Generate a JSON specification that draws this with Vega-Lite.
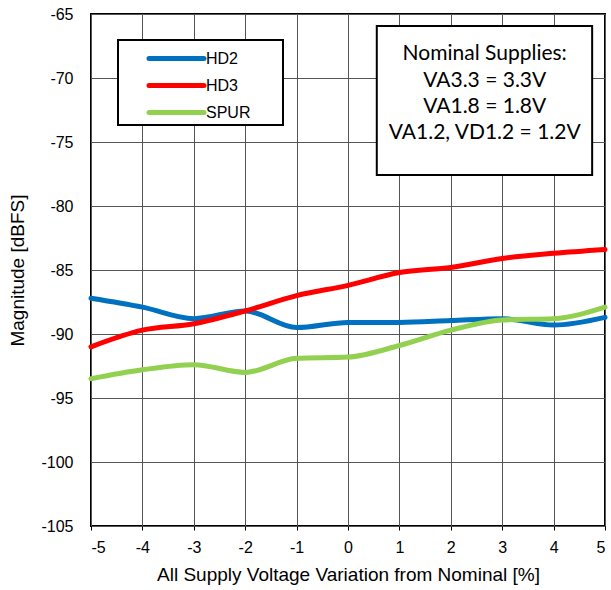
{
  "$schema": "https://vega.github.io/schema/vega-lite/v6.json",
  "width": 514,
  "height": 512,
  "autosize": "none",
  "padding": {"left": 91, "top": 14, "right": 6, "bottom": 64},
  "background": "white",
  "config": {
    "font": "Liberation Sans",
    "view": {"stroke": "black", "strokeWidth": 2},
    "axis": {"gridColor": "#555555", "gridWidth": 1, "gridOpacity": 1, "labelFont": "Liberation Sans", "labelFontSize": 16, "labelColor": "black", "titleFont": "Liberation Sans", "titleFontSize": 19, "titleFontWeight": "normal", "titleColor": "black", "domain": false, "labelExpr": "'' + datum.value"}
  },
  "datasets": {
    "lines": [
      {"x": -5, "y": -87.2, "s": "HD2"}, {"x": -4, "y": -87.9, "s": "HD2"}, {"x": -3, "y": -88.8, "s": "HD2"}, {"x": -2, "y": -88.2, "s": "HD2"}, {"x": -1, "y": -89.5, "s": "HD2"}, {"x": 0, "y": -89.1, "s": "HD2"}, {"x": 1, "y": -89.1, "s": "HD2"}, {"x": 2, "y": -88.95, "s": "HD2"}, {"x": 3, "y": -88.8, "s": "HD2"}, {"x": 4, "y": -89.3, "s": "HD2"}, {"x": 5, "y": -88.7, "s": "HD2"},
      {"x": -5, "y": -91.0, "s": "HD3"}, {"x": -4, "y": -89.7, "s": "HD3"}, {"x": -3, "y": -89.2, "s": "HD3"}, {"x": -2, "y": -88.2, "s": "HD3"}, {"x": -1, "y": -87.0, "s": "HD3"}, {"x": 0, "y": -86.2, "s": "HD3"}, {"x": 1, "y": -85.2, "s": "HD3"}, {"x": 2, "y": -84.8, "s": "HD3"}, {"x": 3, "y": -84.1, "s": "HD3"}, {"x": 4, "y": -83.7, "s": "HD3"}, {"x": 5, "y": -83.4, "s": "HD3"},
      {"x": -5, "y": -93.5, "s": "SPUR"}, {"x": -4, "y": -92.8, "s": "SPUR"}, {"x": -3, "y": -92.4, "s": "SPUR"}, {"x": -2, "y": -93.0, "s": "SPUR"}, {"x": -1, "y": -91.9, "s": "SPUR"}, {"x": 0, "y": -91.8, "s": "SPUR"}, {"x": 1, "y": -90.9, "s": "SPUR"}, {"x": 2, "y": -89.7, "s": "SPUR"}, {"x": 3, "y": -88.9, "s": "SPUR"}, {"x": 4, "y": -88.8, "s": "SPUR"}, {"x": 5, "y": -87.9, "s": "SPUR"}
    ],
    "box": [{"xa": 0.56, "xb": 4.75, "ya": -65.94, "yb": -77.58}],
    "notes": [
      {"x": 2.66, "y": -68.13, "t": "Nominal Supplies:"},
      {"x": 2.66, "y": -70.24, "t": "VA3.3 = 3.3V"},
      {"x": 2.66, "y": -72.27, "t": "VA1.8 = 1.8V"},
      {"x": 2.66, "y": -74.3, "t": "VA1.2, VD1.2 = 1.2V"}
    ]
  },
  "layer": [
    {
      "data": {"name": "lines"},
      "mark": {"type": "line", "interpolate": "monotone", "strokeWidth": 5, "strokeCap": "round"},
      "encoding": {
        "x": {"field": "x", "type": "quantitative", "scale": {"domain": [-5, 5], "nice": false}, "axis": {"values": [-5,-4,-3,-2,-1,0,1,2,3,4,5], "title": "All Supply Voltage Variation from Nominal [%]", "ticks": true, "tickColor": "black", "tickSize": 4, "labelPadding": 9, "titlePadding": 10}},
        "y": {"field": "y", "type": "quantitative", "scale": {"domain": [-105, -65], "nice": false, "zero": false}, "axis": {"values": [-105,-100,-95,-90,-85,-80,-75,-70,-65], "title": "Magnitude [dBFS]", "ticks": false, "labelPadding": 18, "titlePadding": 13}},
        "color": {"field": "s", "type": "nominal", "scale": {"domain": ["HD2", "HD3", "SPUR"], "range": ["#0070C0", "#FF0000", "#92D050"]},
          "legend": {"title": ".", "titleOrient": "right", "titleOpacity": 0, "titlePadding": 26, "titleFontSize": 16, "orient": "none", "legendX": 27, "legendY": 26, "fillColor": "white", "strokeColor": "black", "padding": 2, "symbolType": "M-2,0H2", "symbolSize": 756, "symbolStrokeWidth": 5, "symbolOffset": 40, "labelOffset": 13, "labelFontSize": 16, "labelFont": "Liberation Sans", "labelColor": "black", "rowPadding": 0,
            "encode": {"legend": {"update": {"strokeWidth": {"value": 2}}}, "symbols": {"update": {"strokeCap": {"value": "round"}}}}}}
      }
    },
    {
      "data": {"name": "box"},
      "mark": {"type": "rect", "fill": "white", "stroke": "black", "strokeWidth": 2},
      "encoding": {
        "x": {"field": "xa", "type": "quantitative"},
        "x2": {"field": "xb"},
        "y": {"field": "ya", "type": "quantitative"},
        "y2": {"field": "yb"}
      }
    },
    {
      "data": {"name": "notes"},
      "mark": {"type": "text", "font": "Lato", "fontSize": 21, "align": "center", "baseline": "middle", "color": "black"},
      "encoding": {
        "x": {"field": "x", "type": "quantitative"},
        "y": {"field": "y", "type": "quantitative"},
        "text": {"field": "t"}
      }
    }
  ]
}
